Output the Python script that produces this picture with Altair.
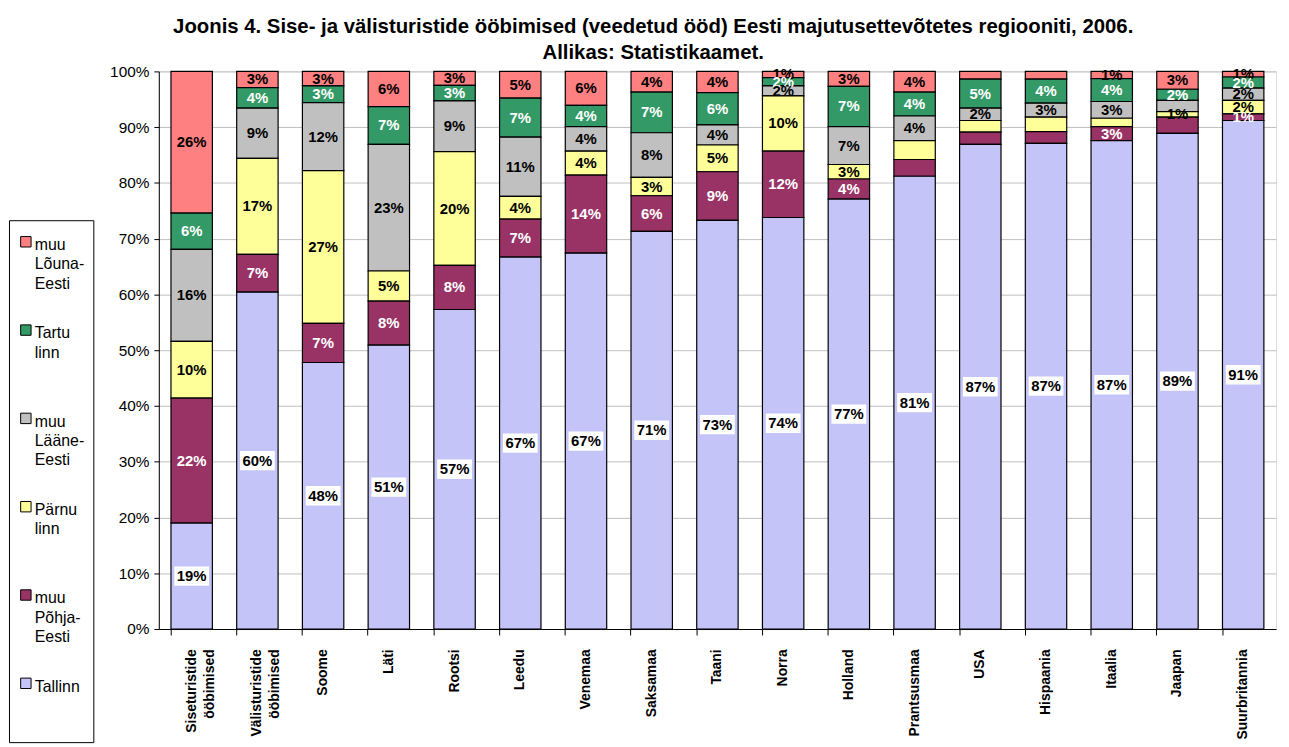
import altair as alt
import pandas as pd

FONT = "Liberation Sans, Arial, Helvetica, sans-serif"

categories = ["Siseturistide ööbimised", "Välisturistide ööbimised", "Soome", "Läti", "Rootsi",
              "Leedu", "Venemaa", "Saksamaa", "Taani", "Norra", "Holland", "Prantsusmaa",
              "USA", "Hispaania", "Itaalia", "Jaapan", "Suurbritannia"]

regions = ["muu Lõuna-Eesti", "Tartu linn", "muu Lääne-Eesti", "Pärnu linn", "muu Põhja-Eesti", "Tallinn"]
legend_lines = [["muu", "Lõuna-", "Eesti"], ["Tartu", "linn", " "], ["muu", "Lääne-", "Eesti"],
                ["Pärnu", "linn", " "], ["muu", "Põhja-", "Eesti"], ["Tallinn", " ", " "]]
colors = ["#FF8080", "#339966", "#C0C0C0", "#FFFF99", "#993366", "#C4C4F8"]

# shares (%)
tallinn = [19.0, 60.4, 47.8, 50.9, 57.3, 66.7, 67.4, 71.3, 73.3, 73.8, 77.1, 81.2, 86.9, 87.1, 87.6, 88.9, 91.2]
pohja = [22.4, 6.8, 7.0, 7.9, 7.9, 6.8, 14.0, 6.4, 8.7, 11.9, 3.6, 3.0, 2.2, 2.1, 2.5, 2.9, 1.2]
parnu = [10.2, 17.2, 27.4, 5.4, 20.4, 4.1, 4.3, 3.3, 4.8, 9.9, 2.6, 3.4, 2.1, 2.6, 1.5, 1.0, 2.4]
laane = [16.5, 9.0, 12.2, 22.7, 9.1, 10.6, 4.4, 8.0, 3.6, 1.8, 6.8, 4.4, 2.2, 2.5, 3.0, 2.0, 2.2]
tartu = [6.5, 3.7, 3.0, 6.8, 2.8, 7.0, 3.8, 7.3, 5.8, 1.5, 7.2, 4.3, 5.2, 4.3, 4.1, 2.0, 2.0]
louna = [25.4, 2.9, 2.6, 6.3, 2.5, 4.8, 6.1, 3.7, 3.8, 1.1, 2.7, 3.7, 1.4, 1.4, 1.3, 3.2, 1.0]

# data labels as printed in the picture ("" = no label shown)
lab_tallinn = ["19%", "60%", "48%", "51%", "57%", "67%", "67%", "71%", "73%", "74%", "77%", "81%", "87%", "87%", "87%", "89%", "91%"]
lab_pohja = ["22%", "7%", "7%", "8%", "8%", "7%", "14%", "6%", "9%", "12%", "4%", "", "", "", "3%", "", "1%"]
lab_parnu = ["10%", "17%", "27%", "5%", "20%", "4%", "4%", "3%", "5%", "10%", "3%", "", "", "", "", "1%", "2%"]
lab_laane = ["16%", "9%", "12%", "23%", "9%", "11%", "4%", "8%", "4%", "2%", "7%", "4%", "2%", "3%", "3%", "", "2%"]
lab_tartu = ["6%", "4%", "3%", "7%", "3%", "7%", "4%", "7%", "6%", "2%", "7%", "4%", "5%", "4%", "4%", "2%", "2%"]
lab_louna = ["26%", "3%", "3%", "6%", "3%", "5%", "6%", "4%", "4%", "1%", "3%", "4%", "", "", "1%", "3%", "1%"]

series = {
    "muu Lõuna-Eesti": (louna, lab_louna),
    "Tartu linn": (tartu, lab_tartu),
    "muu Lääne-Eesti": (laane, lab_laane),
    "Pärnu linn": (parnu, lab_parnu),
    "muu Põhja-Eesti": (pohja, lab_pohja),
    "Tallinn": (tallinn, lab_tallinn),
}

rows = []
for ri, reg in enumerate(regions):
    vals, labs = series[reg]
    for ci, cat in enumerate(categories):
        rows.append({"category": cat, "region": reg, "value": vals[ci], "label": labs[ci],
                     "stack_order": len(regions) - 1 - ri})
df = pd.DataFrame(rows)

# legend label expression (multi-line labels)
expr = "null"
for reg, lines in zip(reversed(regions), reversed(legend_lines)):
    arr = "[" + ",".join("'" + s + "'" for s in lines) + "]"
    expr = f"datum.label == '{reg}' ? {arr} : ({expr})"

base = alt.Chart(df).transform_stack(
    stack="value", groupby=["category"],
    sort=[alt.SortField("stack_order", order="ascending")],
    as_=["y0", "y1"],
).transform_calculate(mid="(datum.y0 + datum.y1) / 2")

xenc = alt.X("category:N", sort=categories, title=None,
             scale=alt.Scale(paddingInner=0.37, paddingOuter=0.185),
             axis=alt.Axis(labelAngle=270, labelAlign="right", labelBaseline="middle",
                           labelFont=FONT, labelFontWeight="bold", labelFontSize=14,
                           labelColor="black", labelExpr="split(datum.label, ' ')",
                           labelLineHeight=18, labelPadding=14, tickSize=6, tickColor="black",
                           domainColor="black", bandPosition=0, grid=False))

bars = base.mark_bar(stroke="black", strokeWidth=1.2).encode(
    x=xenc,
    y=alt.Y("y0:Q", scale=alt.Scale(domain=[0, 100], nice=False), title=None,
            axis=alt.Axis(values=list(range(0, 101, 10)), labelExpr="datum.value + '%'",
                          grid=True, gridColor="#BFBFBF", tickColor="black", domainColor="black",
                          tickSize=5, labelFont=FONT, labelFontSize=15.5, labelPadding=5,
                          labelColor="black")),
    y2="y1:Q",
    color=alt.Color("region:N", scale=alt.Scale(domain=regions, range=colors),
                    legend=alt.Legend(title=None, orient="none", legendX=-151, legendY=150,
                                      direction="vertical", labelExpr=expr, labelBaseline="top",
                                      labelFont=FONT, labelFontSize=16, labelColor="black",
                                      labelLimit=300, symbolType="M-1,-0.1H1V1.9H-1Z",
                                      symbolSize=110, symbolStrokeColor="black",
                                      symbolStrokeWidth=1, symbolOpacity=1, rowPadding=26,
                                      padding=9, strokeColor="black", fillColor="white",
                                      labelOffset=1, cornerRadius=0)),
)

boxes = base.transform_filter("datum.region == 'Tallinn' && datum.label != ''").mark_point(
    shape="M-1.8,-1H1.8V1H-1.8Z", filled=True, fill="white", opacity=1, size=380, strokeWidth=0
).encode(x=alt.X("category:N", sort=categories), y=alt.Y("mid:Q"))

text = base.transform_filter("datum.label != ''").mark_text(
    font=FONT, fontWeight="bold", fontSize=15, baseline="middle", align="center"
).encode(
    x=alt.X("category:N", sort=categories),
    y=alt.Y("mid:Q"),
    text="label:N",
    color=alt.condition(alt.FieldOneOfPredicate(field="region", oneOf=["Tartu linn", "muu Põhja-Eesti"]),
                        alt.value("white"), alt.value("black")),
)

chart = alt.layer(bars, boxes, text).properties(
    width=1126, height=562,
    padding={"left": 0, "top": 6, "right": 5, "bottom": 0},
    background="white",
    title=alt.Title(
        text=["Joonis 4. Sise- ja välisturistide ööbimised (veedetud ööd) Eesti majutusettevõtetes regiooniti, 2006.",
              "Allikas: Statistikaamet."],
        font=FONT, fontSize=20.5, fontWeight="bold", color="black", anchor="middle",
        frame="bounds", lineHeight=26, offset=1, dx=11),
).configure_view(stroke=None).configure(style={"guide-label": {"lineHeight": 19.5}})

chart.save("out.html", embed_options={"renderer": "svg", "actions": False})
